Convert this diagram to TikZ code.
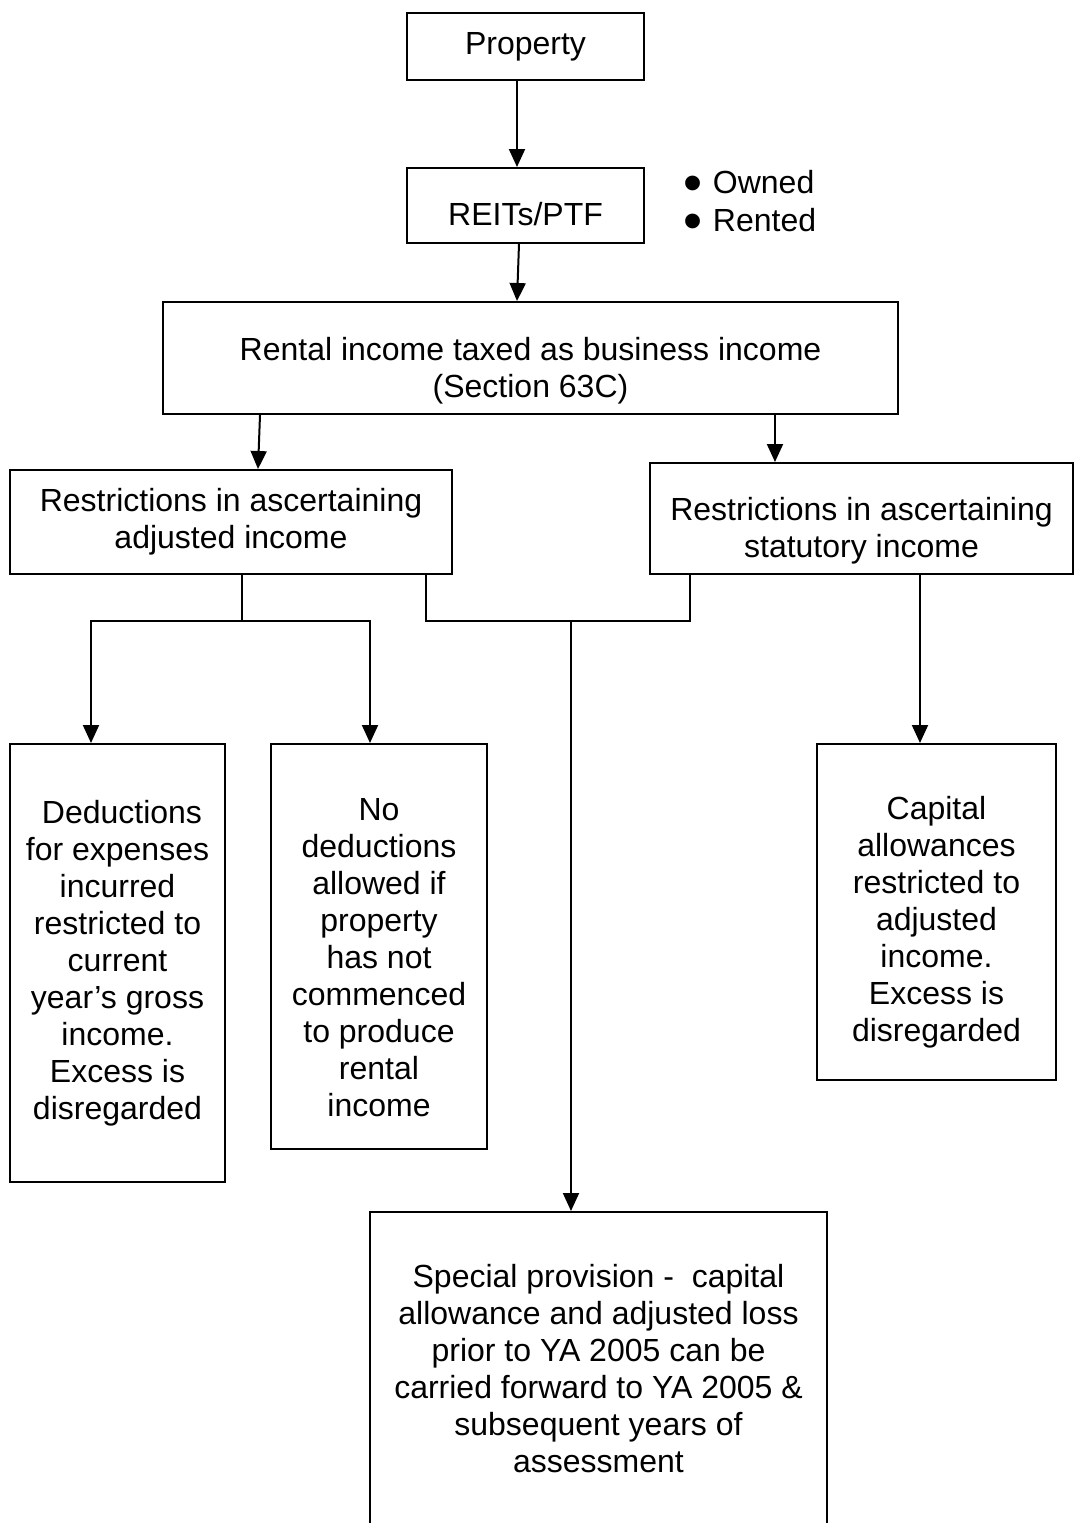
\documentclass[tikz,border=0pt]{standalone}
\usepackage{fontspec}
\usepackage{graphicx}
\setmainfont{Liberation Sans}
\usetikzlibrary{arrows.meta,positioning}
\newcommand{\boxgap}[1]{\rule{0pt}{#1}}
\newcommand{\dotmark}{\smash{\raisebox{-4pt}{\scalebox{1.7}{•}}}\hspace{5pt}}
\tikzstyle{box}=[
  rectangle,
  draw,
  line width=1pt,
  inner sep=0pt,
  align=center,
  font={\fontsize{16pt}{18.5pt}\selectfont},
]
\tikzstyle{list}=[
  inner sep=0pt,
  align=left,
  font={\fontsize{16pt}{19pt}\selectfont},
]
\tikzstyle{arrow}=[
  draw=black,
  line width=1pt,
]
\tikzset{
  >={Triangle[length=9pt,width=8pt]},
}

\begin{document}
\begin{tikzpicture}[x=0.5pt,y=-0.5pt]
  \clip (0,0) rectangle (1074,1523);
  % top chain
  \node [box, minimum width=118.5pt, minimum height=33.5pt] (PROPERTY) at (525.5,46.5) {Property};
  \node [box, minimum width=118.5pt, minimum height=37.5pt] (REITS) at (525.5,205.5) {\boxgap{19.7pt}REITs/PTF};
  \node [list, anchor=west] (TYPES) at (683.5,201) {\dotmark Owned\\\dotmark Rented};
  \node [box, minimum width=367.5pt, minimum height=56pt] (RENTAL) at (530.5,358)
    {\boxgap{24.7pt}Rental income taxed as business income\\(Section 63C)};
  % restrictions
  \node [box, minimum width=221pt, minimum height=52pt] (ADJUSTED) at (231,522)
    {Restrictions in ascertaining\\adjusted income};
  \node [box, minimum width=211.5pt, minimum height=55.5pt] (STATUTORY) at (861.5,518.5)
    {\boxgap{23.7pt}Restrictions in ascertaining\\statutory income};
  % outcomes
  \node [box, minimum width=107.5pt, minimum height=219pt] (DEDUCT) at (117.5,963)
    {\ Deductions\\for expenses\\incurred\\restricted to\\current\\year’s gross\\income.\\Excess is\\disregarded};
  \node [box, minimum width=108pt, minimum height=202.5pt] (NODEDUCT) at (379,946.5)
    {\boxgap{21.7pt}No\\deductions\\allowed if\\property\\has not\\commenced\\to produce\\rental\\income};
  \node [box, minimum width=119.5pt, minimum height=168pt] (CAPITAL) at (936.5,912)
    {\boxgap{21.7pt}Capital\\allowances\\restricted to\\adjusted\\income.\\Excess is\\disregarded};
  \node [box, anchor=north, minimum width=228.5pt, minimum height=174.5pt] (SPECIAL) at (598.5,1211)
    {Special provision -\ \ capital\\allowance and adjusted loss\\prior to YA 2005 can be\\carried forward to YA 2005 \&\\subsequent years of\\assessment\\\mbox{}};
  % connectors
  \draw [arrow, ->] ([xshift=-4.25pt]PROPERTY.south) -- ([xshift=-4.25pt]REITS.north);
  \draw [arrow, ->] ([xshift=-3.25pt]REITS.south) -- ([xshift=-6.75pt]RENTAL.north);
  \draw [arrow, ->] ([xshift=-135.25pt]RENTAL.south) -- ([xshift=13.5pt]ADJUSTED.north);
  \draw [arrow, ->] ([xshift=122.25pt]RENTAL.south) -- ([xshift=-43.25pt]STATUTORY.north);
  \coordinate (FORK) at ([xshift=5.5pt,yshift=-23pt]ADJUSTED.south);
  \draw [arrow] ([xshift=5.5pt]ADJUSTED.south) -- (FORK);
  \draw [arrow, ->] (FORK) -| ([xshift=-13.25pt]DEDUCT.north);
  \draw [arrow, ->] (FORK) -| ([xshift=-4.5pt]NODEDUCT.north);
  \coordinate (MERGE) at ([xshift=-13.75pt]SPECIAL.north |- FORK);
  \draw [arrow] ([xshift=97.5pt]ADJUSTED.south) |- (MERGE) -| ([xshift=-85.75pt]STATUTORY.south);
  \draw [arrow, ->] (MERGE) -- ([xshift=-13.75pt]SPECIAL.north);
  \draw [arrow, ->] ([xshift=29.25pt]STATUTORY.south) -- ([xshift=-8.25pt]CAPITAL.north);
\end{tikzpicture}
\end{document}
